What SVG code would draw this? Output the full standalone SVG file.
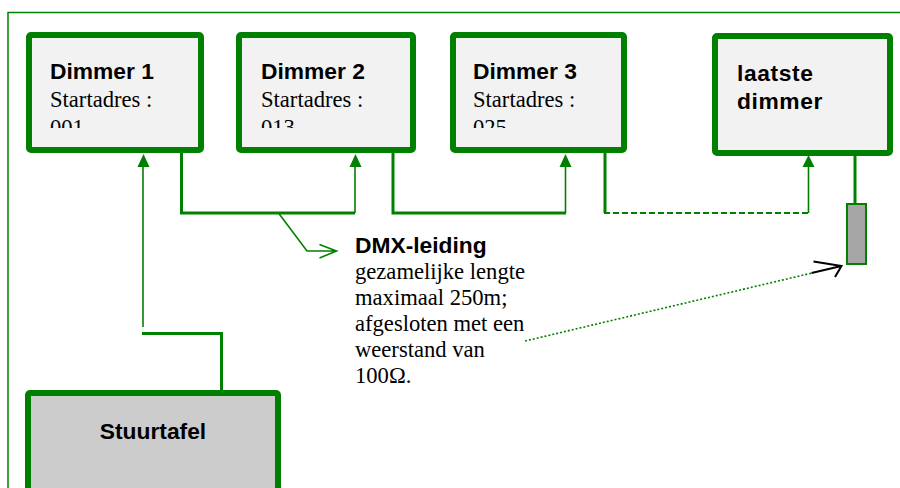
<svg xmlns="http://www.w3.org/2000/svg" width="900" height="488" viewBox="0 0 900 488">
<style>
.box{fill:#f2f2f2;stroke:#008000;stroke-width:6}
.ttl{font-family:"Liberation Sans",Arial,sans-serif;font-weight:bold;font-size:22.8px;fill:#000}
.ser{font-family:"Liberation Serif","Times New Roman",serif;font-size:22.6px;fill:#000}
.thick{stroke:#008000;stroke-width:3;fill:none}
.thin{stroke:#008000;stroke-width:1.6;fill:none}
.dash{stroke:#008000;stroke-width:2;fill:none;stroke-dasharray:6 3}
.dot{stroke:#008000;stroke-width:1.6;fill:none;stroke-dasharray:2 2}
.ah{fill:#008000}
</style>
<defs>
<clipPath id="c1"><rect x="30" y="38" width="170" height="90"/></clipPath>
<clipPath id="c2"><rect x="240" y="38" width="172" height="90"/></clipPath>
<clipPath id="c3"><rect x="454" y="38" width="170" height="90"/></clipPath>
</defs>
<rect x="8" y="12.5" width="900" height="500" fill="#fff" stroke="#008000" stroke-width="1.5"/>

<g id="dimmer1">
<rect class="box" x="29" y="35" width="172" height="115" rx="2"/>
<g clip-path="url(#c1)">
<text class="ttl" x="50" y="79">Dimmer 1</text>
<text class="ser" x="50" y="107">Startadres :</text>
<text class="ser" x="50" y="135">001</text>
</g>
</g>
<g id="dimmer2">
<rect class="box" x="239" y="35" width="174" height="115" rx="2"/>
<g clip-path="url(#c2)">
<text class="ttl" x="261" y="79">Dimmer 2</text>
<text class="ser" x="261" y="107">Startadres :</text>
<text class="ser" x="261" y="135">013</text>
</g>
</g>
<g id="dimmer3">
<rect class="box" x="453" y="35" width="171" height="115" rx="2"/>
<g clip-path="url(#c3)">
<text class="ttl" x="473" y="79">Dimmer 3</text>
<text class="ser" x="473" y="107">Startadres :</text>
<text class="ser" x="473" y="135">025</text>
</g>
</g>
<g id="laatste">
<rect class="box" x="715" y="36" width="175" height="117" rx="2"/>
<text class="ttl" x="737" y="81" letter-spacing="0.6">laatste</text>
<text class="ttl" x="737" y="109" letter-spacing="0.6">dimmer</text>
</g>
<g id="stuurtafel">
<rect x="28" y="393" width="250" height="120" rx="2" fill="#cccccc" stroke="#008000" stroke-width="6"/>
<text class="ttl" x="153" y="439" text-anchor="middle">Stuurtafel</text>
</g>
<g id="terminator">
<rect x="847" y="204" width="19" height="60" fill="#a6a6a6" stroke="#008000" stroke-width="2"/>
</g>
<g id="dmx-label">
<text class="ttl" x="355" y="253">DMX-leiding</text>
<text class="ser" x="355" y="279">gezamelijke lengte</text>
<text class="ser" x="355" y="305">maximaal 250m;</text>
<text class="ser" x="355" y="331">afgesloten met een</text>
<text class="ser" x="355" y="357">weerstand van</text>
<text class="ser" x="355" y="383">100Ω.</text>
</g>

<g id="connectors">
<path class="thick" d="M221.5 390 V333.5 H142"/>
<path class="thin" d="M143 327 V165"/>
<polygon class="ah" points="143.5,154 137.5,167 149.5,167"/>
<path class="thick" d="M181.5 153 V213 H355"/>
<path class="thin" d="M355 213 V165"/>
<polygon class="ah" points="355.5,154 349.5,167 361.5,167"/>
<path class="thick" d="M393 153 V213 H566"/>
<path class="thin" d="M565.5 213 V165"/>
<polygon class="ah" points="565.5,154 559.5,167 571.5,167"/>
<path class="thick" d="M605 153 V213"/>
<path class="dash" d="M604 213 H808"/>
<path class="thin" d="M808.5 213 V165"/>
<polygon class="ah" points="808.5,155 802.5,167 814.5,167"/>
<path class="thick" d="M855 156 V204"/>
<path class="thin" d="M278.5 213 L307 251 H336.5 M319.5 244.5 L336.5 251 L319.5 258"/>
<path class="dot" d="M525 341 L812 273"/>
<path d="M811.5 273 L841.5 266 M813.5 261.5 L841.5 266 L835 277" fill="none" stroke="#000" stroke-width="2"/>
</g>
</svg>
